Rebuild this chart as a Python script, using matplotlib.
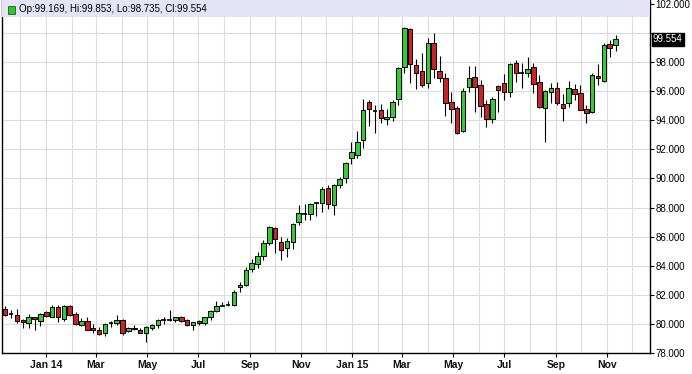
import matplotlib
matplotlib.use("Agg")
import matplotlib.pyplot as plt
import matplotlib.dates as mdates
from matplotlib.patches import Rectangle
import numpy as np
import datetime as dt

# ---- data (weekly OHLC) ----
start_date = dt.date(2013, 11, 13)
opens = [81.00, 80.66, 80.60, 80.25, 80.05, 80.45, 80.20, 80.80, 80.50, 81.15,
         80.35, 81.25, 80.70, 79.95, 80.20, 79.75, 79.60, 79.35, 80.05, 80.05,
         80.30, 79.50, 79.75, 79.60, 79.40, 79.70, 79.95, 80.30, 80.25, 80.25,
         80.45, 80.30, 79.90, 80.20, 80.05, 80.45, 80.90, 81.25, 81.30, 81.30,
         82.52, 82.68, 83.75, 84.12, 84.67, 85.58, 86.57, 85.65, 85.19, 85.61,
         87.03, 87.53, 87.53, 88.29, 88.29, 89.32, 88.17, 89.55, 90.00, 91.38,
         91.61, 92.64, 95.27, 94.66, 94.70, 94.06, 94.24, 95.43, 97.68, 100.24,
         97.79, 97.38, 96.58, 99.28, 97.38, 96.88, 95.27, 94.82, 93.26, 96.26,
         97.00, 96.42, 95.09, 94.06, 96.35, 96.54, 95.92, 97.91, 97.27, 97.27,
         97.66, 96.65, 94.82, 95.92, 96.19, 95.11, 95.20, 96.12, 95.90, 94.75,
         94.59, 97.06, 96.72, 99.24, 99.169]
highs = [81.23, 80.96, 81.00, 80.35, 80.70, 80.50, 80.75, 80.90, 81.30, 81.30,
         81.30, 81.30, 80.85, 80.40, 80.50, 80.00, 79.80, 80.05, 80.20, 80.60,
         80.35, 79.80, 79.90, 79.70, 79.85, 80.00, 80.35, 80.50, 80.95, 80.50,
         80.55, 80.35, 80.15, 80.25, 80.50, 80.95, 81.55, 81.50, 81.60, 82.35,
         82.90, 83.90, 84.44, 84.97, 85.77, 86.73, 86.64, 86.00, 85.88, 86.91,
         88.17, 88.24, 88.33, 88.36, 89.43, 89.55, 89.60, 90.12, 91.10, 92.52,
         93.28, 95.46, 95.39, 95.04, 95.11, 94.75, 95.39, 97.68, 100.43, 100.31,
         98.18, 98.60, 99.63, 100.02, 98.41, 97.22, 95.96, 94.95, 96.19, 97.75,
         97.70, 96.76, 95.39, 95.62, 96.45, 97.15, 97.95, 98.14, 97.91, 98.32,
         97.90, 97.10, 96.10, 96.54, 96.60, 95.80, 96.72, 96.49, 96.42, 95.04,
         97.22, 97.86, 99.28, 99.51, 99.853]
lows = [80.54, 80.39, 80.05, 79.70, 79.70, 79.60, 79.85, 80.50, 80.45, 80.10,
        80.20, 80.55, 79.95, 79.85, 79.55, 79.35, 79.25, 79.20, 79.80, 79.95,
        79.25, 79.45, 79.55, 79.35, 78.78, 79.55, 79.70, 80.00, 80.20, 80.15,
        80.10, 79.85, 79.60, 79.95, 79.95, 80.30, 80.85, 81.20, 81.20, 81.25,
        82.20, 82.60, 83.59, 83.82, 84.39, 85.42, 84.85, 84.39, 84.62, 85.13,
        86.80, 87.14, 87.14, 87.44, 87.71, 87.87, 87.50, 89.32, 89.70, 90.99,
        91.38, 92.07, 93.60, 93.14, 93.83, 93.67, 93.97, 95.04, 97.22, 96.58,
        96.12, 96.30, 96.24, 96.88, 96.65, 94.29, 93.83, 93.05, 93.21, 95.96,
        94.59, 94.24, 93.51, 93.79, 94.59, 95.39, 95.57, 96.65, 96.19, 96.99,
        95.85, 94.82, 92.52, 95.16, 95.04, 93.97, 94.93, 95.39, 94.70, 93.78,
        94.47, 96.42, 96.65, 98.37, 98.735]
closes = [80.61, 80.66, 80.20, 80.10, 80.50, 80.35, 80.70, 80.55, 81.15, 80.45,
          81.25, 80.60, 80.00, 80.20, 79.60, 79.60, 79.30, 80.00, 80.05, 80.30,
          79.35, 79.75, 79.65, 79.40, 79.80, 79.90, 80.30, 80.30, 80.25, 80.45,
          80.20, 79.90, 80.10, 80.05, 80.45, 80.90, 81.25, 81.25, 81.30, 82.20,
          82.68, 83.71, 84.16, 84.67, 85.58, 86.64, 85.81, 85.08, 85.72, 86.84,
          87.60, 87.53, 88.22, 88.29, 89.25, 88.24, 89.55, 89.94, 91.03, 91.84,
          92.52, 94.70, 94.75, 94.66, 94.13, 94.22, 95.27, 97.57, 100.31, 97.84,
          97.22, 96.42, 99.28, 97.50, 96.88, 95.20, 94.75, 93.10, 96.01, 96.88,
          96.28, 94.95, 94.06, 95.43, 96.06, 95.96, 97.86, 97.22, 97.27, 97.50,
          96.46, 94.93, 96.01, 96.19, 95.16, 94.82, 96.19, 95.79, 94.72, 94.47,
          97.11, 96.88, 99.17, 98.94, 99.554]

y_ticks = [78, 80, 82, 84, 86, 88, 90, 92, 94, 96, 98, 100, 102]
y_hidden = [100]  # covered by the last-price box in the reference
header_text = "Op:99.169, Hi:99.853, Lo:98.735, Cl:99.554"
last_label = "99.554"

# ---- figure ----
W, H = 692, 374
fig = plt.figure(figsize=(W / 100, H / 100), dpi=100)
ax = fig.add_axes([2 / W, 21 / H, 648 / W, 353 / H])
ax.set_facecolor("white")

dates = [start_date + dt.timedelta(days=7 * i) for i in range(len(opens))]
x = mdates.date2num(dates)
o = np.array(opens); h = np.array(highs); l = np.array(lows); c = np.array(closes)

base = mdates.date2num(dt.date(2014, 1, 1))
ax.set_xlim(base - 52.8, base + 720)
ax.set_ylim(78, 78 + 353 / 14.55)

bw = 5.4
green = "#33cc33"
red = "#cc2222"
ax.vlines(x, l, h, color="black", lw=0.8, zorder=3)
for xi, oi, ci in zip(x, o, c):
    if abs(ci - oi) < 1e-9:
        ax.hlines(oi, xi - bw / 2, xi + bw / 2, color="black", lw=1.2, zorder=4)
    else:
        col = green if ci > oi else red
        ax.add_patch(Rectangle((xi - bw / 2, min(oi, ci)), bw, abs(ci - oi),
                               facecolor=col, edgecolor="black", lw=0.7, zorder=4))

# grid
ax.xaxis.set_major_locator(mdates.MonthLocator(bymonth=[1, 3, 5, 7, 9, 11]))
ax.xaxis.set_minor_locator(mdates.MonthLocator())


def fmt(v, pos=None):
    d = mdates.num2date(v)
    if d.month == 1:
        return d.strftime("Jan %y")
    return d.strftime("%b")


ax.xaxis.set_major_formatter(plt.FuncFormatter(fmt))
ax.set_yticks(y_ticks)
ax.yaxis.set_major_formatter(plt.FuncFormatter(
    lambda v, p: "" if round(v) in y_hidden else f"{v:.3f}"))
ax.yaxis.tick_right()
ax.grid(True, which="both", axis="x", color="#dcdcdc", lw=0.8, zorder=0)
ax.grid(True, which="major", axis="y", color="#dcdcdc", lw=0.8, zorder=0)
ax.set_axisbelow(True)

ax.tick_params(axis="x", which="major", length=3, width=0.8, color="black",
               pad=2, labelsize=7.5)
ax.tick_params(axis="x", which="minor", length=0)
ax.tick_params(axis="y", which="major", length=3, width=0.8, color="black",
               pad=1, labelsize=7)
for lab in ax.get_xticklabels():
    lab.set_fontweight("bold")
    lab.set_family("Liberation Sans")
    lab.set_color("#111111")
for lab in ax.get_yticklabels():
    lab.set_family("Liberation Sans")

for s in ["left", "right", "bottom"]:
    ax.spines[s].set_color("black")
    ax.spines[s].set_linewidth(1.0)
ax.spines["top"].set_visible(False)

# header band
band_h = 17 / 353
ax.add_patch(Rectangle((0, 1 - band_h), 1, band_h, transform=ax.transAxes,
                       facecolor="#e4e4f6", edgecolor="none", zorder=5, clip_on=False))
ax.add_patch(Rectangle((6 / 648, 1 - 13.5 / 353), 7 / 648, 7 / 353, transform=ax.transAxes,
                       facecolor="#22cc22", edgecolor="#225522", lw=0.6, zorder=6))
ax.text(17 / 648, 1 - 9.5 / 353, header_text, transform=ax.transAxes,
        fontsize=7, family="Liberation Sans", va="center", ha="left", zorder=6)

# last price label
ax.text(1.0 + 3 / 648, closes[-1], last_label, transform=ax.get_yaxis_transform(),
        fontsize=7, family="Liberation Sans", color="white", va="center", ha="left",
        bbox=dict(boxstyle="square,pad=0.12", facecolor="black", edgecolor="black"),
        zorder=10, clip_on=False)

fig.savefig("out.png", dpi=100)
